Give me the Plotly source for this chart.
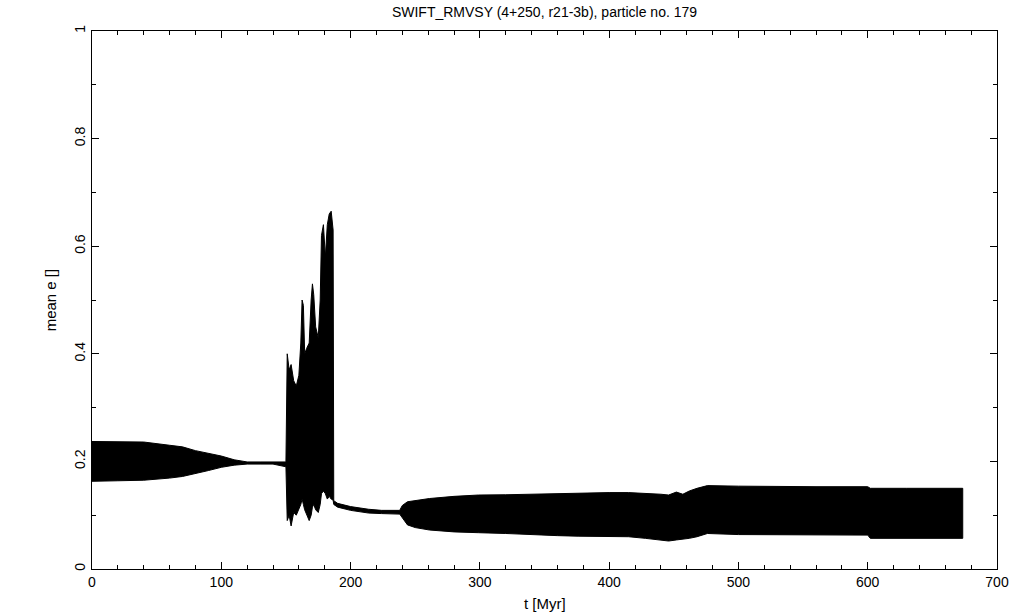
import plotly.graph_objects as go

# Envelope of the mean eccentricity band
t_env = [0, 20, 40, 60, 70, 80, 90, 100, 110, 120, 130, 140, 150,
         151, 152.5, 154, 156, 158, 160, 161.5, 162.5, 163.5, 164.5, 166, 168,
         169.5, 170.5, 171.5, 173, 175, 176.5, 177.5, 179, 180.5, 182, 183.5,
         185, 186.5, 187, 190, 200, 214, 224, 238, 240, 244, 250, 261, 280,
         299, 320, 338, 360, 376, 400, 415, 428, 440, 446, 452, 457, 462, 468,
         476, 500, 530, 560, 600, 602, 630, 673.5]
e_upper = [0.237, 0.237, 0.236, 0.230, 0.227, 0.220, 0.215, 0.210, 0.203,
           0.199, 0.199, 0.199, 0.199,
           0.40, 0.37, 0.38, 0.35, 0.34, 0.36, 0.42, 0.50, 0.49, 0.40, 0.41,
           0.42, 0.50, 0.53, 0.51, 0.45, 0.43, 0.50, 0.62, 0.64, 0.58, 0.64,
           0.66, 0.665, 0.63, 0.127, 0.122, 0.116, 0.111, 0.109, 0.109, 0.118,
           0.125, 0.127, 0.131, 0.135, 0.1375, 0.138, 0.139, 0.141, 0.142,
           0.142, 0.142, 0.141, 0.139, 0.1375, 0.143, 0.139, 0.145, 0.150,
           0.155, 0.154, 0.153, 0.153, 0.153, 0.150, 0.150, 0.150]
e_lower = [0.163, 0.164, 0.165, 0.169, 0.172, 0.177, 0.183, 0.189, 0.193,
           0.195, 0.195, 0.195, 0.190,
           0.09, 0.10, 0.08, 0.105, 0.10, 0.11, 0.12, 0.13, 0.12, 0.11, 0.10,
           0.09, 0.10, 0.115, 0.12, 0.11, 0.105, 0.12, 0.14, 0.145, 0.14, 0.13,
           0.135, 0.13, 0.128, 0.120, 0.115, 0.109, 0.104, 0.103, 0.102, 0.095,
           0.082, 0.077, 0.0725, 0.069, 0.0675, 0.066, 0.0645, 0.062, 0.061,
           0.060, 0.060, 0.057, 0.054, 0.052, 0.054, 0.055, 0.057, 0.060,
           0.066, 0.064, 0.0626, 0.063, 0.063, 0.057, 0.057, 0.057]

x_ticks = [0, 100, 200, 300, 400, 500, 600, 700]
y_ticks = [0, 0.2, 0.4, 0.6, 0.8, 1]
y_tick_text = ["0", "0.2", "0.4", "0.6", "0.8", "1"]

FONT = "Liberation Sans, Arial, sans-serif"

fig = go.Figure()
fig.add_trace(go.Scatter(
    x=t_env + t_env[::-1],
    y=e_upper + e_lower[::-1],
    mode="lines",
    fill="toself",
    fillcolor="black",
    line=dict(color="black", width=1),
    hoverinfo="skip",
    showlegend=False,
))

axis_common = dict(
    showline=True, linecolor="black", linewidth=1, mirror="ticks",
    ticks="inside", ticklen=7, tickwidth=1, tickcolor="black",
    showgrid=False, zeroline=False,
    tickfont=dict(family=FONT, size=14, color="black"),
)

fig.update_xaxes(range=[0, 700], tickvals=x_ticks,
                 minor=dict(dtick=20, ticks="inside", ticklen=4, tickcolor="black"),
                 **axis_common)
fig.update_yaxes(range=[0, 1], tickvals=y_ticks, ticktext=y_tick_text,
                 tickangle=-90,
                 minor=dict(dtick=0.1, ticks="inside", ticklen=4, tickcolor="black"),
                 **axis_common)

fig.update_layout(
    width=1021, height=613,
    margin=dict(l=92, r=21, t=31, b=44),
    paper_bgcolor="white", plot_bgcolor="white",
    title=dict(text="SWIFT_RMVSY (4+250, r21-3b), particle no. 179",
               x=0.5, xref="paper", y=1 - 12 / 613, yref="container",
               xanchor="center", yanchor="middle",
               font=dict(family=FONT, size=14, color="black")),
    annotations=[
        dict(text="t [Myr]", x=0.5, y=-0.065, xref="paper", yref="paper",
             showarrow=False, xanchor="center", yanchor="middle",
             font=dict(family=FONT, size=15, color="black")),
        dict(text="mean e []", x=-0.046, y=0.5, xref="paper", yref="paper",
             showarrow=False, textangle=-90, xanchor="center", yanchor="middle",
             font=dict(family=FONT, size=15, color="black")),
    ],
)

fig.write_html(
    "out.html",
    config={"displayModeBar": False},
    post_script="document.body.style.margin='0';document.body.style.overflow='hidden';",
)
